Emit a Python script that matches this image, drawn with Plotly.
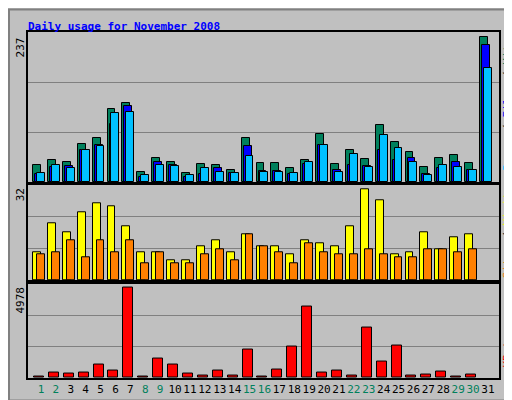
import plotly.graph_objects as go

days = list(range(1, 32))
hits  = [28,36,33,62,72,119,128,17,40,33,15,29,28,20,72,31,31,23,36,79,29,52,37,93,65,49,25,40,44,31,236]
files = [14,25,26,52,60,94,123,9,33,28,9,14,23,15,58,18,18,13,30,60,20,28,26,53,36,39,13,23,33,20,223]
pages = [15,28,23,52,59,112,114,12,28,26,12,23,17,15,42,17,17,15,33,60,17,45,25,77,55,33,12,28,25,20,186]
visits = [10,20,17,24,27,26,19,10,10,7,7,12,14,10,16,12,12,9,14,13,12,19,32,28,9,10,17,11,15,16,None]
sites  = [9,10,14,8,14,10,14,6,10,6,6,9,11,7,16,12,10,6,13,10,9,9,11,9,8,8,11,11,10,11,None]
kbytes = [55,311,256,311,750,421,4978,55,1080,750,256,146,421,146,1574,55,476,1739,3935,311,421,146,2782,915,1794,146,201,366,55,201,None]
weekend = {1,2,8,9,15,16,22,23,29,30}
tick_labels = [f"<span style='color:{'#00805C' if d in weekend else '#000000'}'>{d}</span>" for d in days]

fig = go.Figure()
def bars(y, color, off, w, ax):
    fig.add_trace(go.Bar(x=days, y=y, marker=dict(color=color, line=dict(color='black', width=1)),
                         offset=off, width=w, xaxis=ax[0], yaxis=ax[1], showlegend=False))
bars(hits, '#00805C', -0.53, 0.53, ('x', 'y'))
bars(files, '#0000FF', -0.4, 0.53, ('x', 'y'))
bars(pages, '#00C0FF', -0.27, 0.53, ('x', 'y'))
bars(visits, '#FFFF00', -0.53, 0.53, ('x2', 'y2'))
bars(sites, '#FF8000', -0.27, 0.53, ('x2', 'y2'))
bars(kbytes, '#FF0000', -0.47, 0.67, ('x3', 'y3'))

xr = [0.13, 31.74]
axcommon = dict(range=xr, showline=True, linecolor='black', linewidth=2, mirror=True, showgrid=False, zeroline=False)
yc = dict(showline=True, linecolor='black', linewidth=2, mirror=True, showticklabels=False, ticks='',
          gridcolor='#808080', gridwidth=1, zeroline=False)
fig.update_layout(
    width=512, height=400, barmode='overlay', bargap=0,
    paper_bgcolor='#C0C0C0', plot_bgcolor='#C0C0C0',
    margin=dict(l=20, r=21, t=24, b=24),
    font=dict(family='DejaVu Sans Mono', size=11, color='black'),
    xaxis=dict(**axcommon, anchor='y', showticklabels=False, ticks=''),
    xaxis2=dict(**axcommon, anchor='y2', showticklabels=False, ticks=''),
    xaxis3=dict(**axcommon, anchor='y3', tickvals=days, ticktext=tick_labels, ticks='', tickangle=0,
                tickfont=dict(size=11)),
    yaxis=dict(**yc, domain=[0.566, 1.0], range=[0, 244], tickvals=[81.3, 162.7]),
    yaxis2=dict(**yc, domain=[0.282, 0.557], range=[0, 33.3], tickvals=[11.1, 22.2]),
    yaxis3=dict(**yc, domain=[0.0, 0.273], range=[0, 5216], tickvals=[1739, 3478]),
)
# annotations given in pixel coords (x from left, y from bottom)
ann = [
    dict(text='<b>Daily usage for November 2008</b>', px=18, py=390, font=dict(color='#0000FF', size=11), xanchor='left', yanchor='top'),
    dict(text='237', px=4, py=372, textangle=-90, xanchor='left', yanchor='top'),
    dict(text='32', px=4, py=219, textangle=-90, xanchor='left', yanchor='top'),
    dict(text='4978', px=4, py=119, textangle=-90, xanchor='left', yanchor='top'),
    dict(text="<span style='color:#00C0FF'>Pages</span> / <span style='color:#0000FF'>Files</span> / <span style='color:#00805C'>Hits</span>",
         px=500, py=302, textangle=-90, xanchor='center', yanchor='middle'),
    dict(text="<span style='color:#FF8000'>Sites</span> / <span style='color:#FFFF00'>Visits</span>",
         px=500, py=172, textangle=-90, xanchor='center', yanchor='middle'),
    dict(text="<span style='color:#FF0000'>KBytes</span>",
         px=500, py=55, textangle=-90, xanchor='center', yanchor='middle'),
]
W, H, L, B = 471, 352, 20, 24
for a in ann:
    px = a.pop('px'); py = a.pop('py')
    fig.add_annotation(xref='paper', yref='paper', showarrow=False,
                       x=(px - L) / W, y=(py - B) / H, **a)
fig.add_shape(type='rect', xref='paper', yref='paper', x0=-19/471, x1=(511-20)/471, y0=-23/352, y1=(399-24)/352,
              line=dict(color='#808080', width=2))
fig.write_html('out.html')
